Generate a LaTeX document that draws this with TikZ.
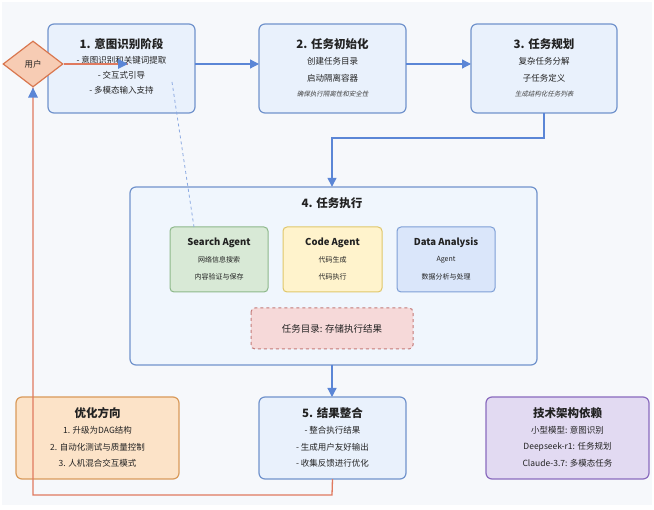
\documentclass[tikz,border=0pt]{standalone}
\usepackage{fontspec}
\setmainfont{Noto Sans CJK SC}
\newfontfamily\slantcjk[FakeSlant=0.25]{Noto Sans CJK SC}
\usetikzlibrary{arrows.meta,shapes.geometric}
\definecolor{bgc}{HTML}{F6F8FB}
\definecolor{stagefill}{HTML}{E9F1FC}
\definecolor{stagedraw}{HTML}{7193CC}
\definecolor{bigfill}{HTML}{F0F6FD}
\definecolor{greenfill}{HTML}{D8E9D6}
\definecolor{greendraw}{HTML}{8DB88A}
\definecolor{yellowfill}{HTML}{FFF3CC}
\definecolor{yellowdraw}{HTML}{E0C76A}
\definecolor{bluefill}{HTML}{DAE6FA}
\definecolor{bluedraw}{HTML}{7E9FD6}
\definecolor{redfill}{HTML}{F6D9D9}
\definecolor{reddraw}{HTML}{C47A78}
\definecolor{userfill}{HTML}{F7CCB4}
\definecolor{userdraw}{HTML}{D9774F}
\definecolor{orangefill}{HTML}{FCE3C8}
\definecolor{orangedraw}{HTML}{D99A5A}
\definecolor{purplefill}{HTML}{E2DAF2}
\definecolor{purpledraw}{HTML}{8A6BBE}
\definecolor{arrowblue}{HTML}{5B86D6}
\definecolor{fbline}{HTML}{E07A5F}
\definecolor{txt}{HTML}{222222}
\begin{document}
\begin{tikzpicture}[x=1pt,y=-1pt,
  box/.style={rounded corners=6pt,line width=1.2pt},
  stage/.style={box,draw=stagedraw,fill=stagefill},
  ttl/.style={font=\bfseries\fontsize{11.5}{13}\selectfont,text=txt},
  body/.style={font=\fontsize{8.5}{10}\selectfont,text=txt,align=center},
  small/.style={font=\fontsize{7}{8}\selectfont,text=txt,align=center},
  note/.style={font=\slantcjk\fontsize{6.5}{8}\selectfont,text=txt!85},
  agentttl/.style={font=\bfseries\fontsize{9.5}{11}\selectfont,text=txt},
  conn/.style={draw=arrowblue,line width=1.3pt,-{Triangle[length=9pt,width=9pt]}},
]
\path[fill=white] (0,0) rectangle (654,510);
\path[fill=bgc] (2,2) rectangle (652,505);

% stage boxes
\draw[stage] (48,24) rectangle (195,113);
\node[minimum width=147pt,minimum height=89pt] (s1) at (121.5,68.5) {};
\node[ttl] (s1t) at (121.5,44) {1. 意图识别阶段};
\node[body] (s1a) at (121.5,60) {- 意图识别和关键词提取};
\node[body] (s1b) at (121.5,75) {- 交互式引导};
\node[body] (s1d) at (121.5,90) {- 多模态输入支持};

\draw[stage] (259,24) rectangle (406,113);
\node[minimum width=147pt,minimum height=89pt] (s2) at (332.5,68.5) {};
\node[ttl] (s2t) at (332.5,44) {2. 任务初始化};
\node[body] (s2a) at (332.5,61) {创建任务目录};
\node[body] (s2b) at (332.5,78) {启动隔离容器};
\node[note] (s2c) at (332.5,94) {确保执行隔离性和安全性};

\draw[stage] (471,24) rectangle (617,113);
\node[minimum width=146pt,minimum height=89pt] (s3) at (544,68.5) {};
\node[ttl] (s3t) at (544,44) {3. 任务规划};
\node[body] (s3a) at (544,61) {复杂任务分解};
\node[body] (s3b) at (544,78) {子任务定义};
\node[note] (s3c) at (544,94) {生成结构化任务列表};

% stage 4
\draw[box,draw=stagedraw,fill=bigfill] (130,187) rectangle (537,365);
\node[minimum width=407pt,minimum height=178pt] (s4) at (333.5,276) {};
\node[ttl] (s4t) at (332,203) {4. 任务执行};

\draw[box,rounded corners=4pt,line width=1pt,draw=greendraw,fill=greenfill] (170,227) rectangle (268,292);
\node[minimum width=98pt,minimum height=65pt] (sa) at (219,259.5) {};
\node[agentttl] (sat) at (219,243) {Search Agent};
\node[small] (saa) at (219,260) {网络信息搜索};
\node[small] (sab) at (219,277) {内容验证与保存};

\draw[box,rounded corners=4pt,line width=1pt,draw=yellowdraw,fill=yellowfill] (283,227) rectangle (382,292);
\node[minimum width=99pt,minimum height=65pt] (ca) at (332.5,259.5) {};
\node[agentttl] (cat) at (332.5,243) {Code Agent};
\node[small] (caa) at (332.5,260) {代码生成};
\node[small] (cab) at (332.5,277) {代码执行};

\draw[box,rounded corners=4pt,line width=1pt,draw=bluedraw,fill=bluefill] (397,227) rectangle (495,292);
\node[minimum width=98pt,minimum height=65pt] (da) at (446,259.5) {};
\node[agentttl] (dat) at (446,243) {Data Analysis};
\node[small] (daa) at (446,260) {Agent};
\node[small] (dab) at (446,277) {数据分析与处理};

\draw[box,rounded corners=4pt,line width=1pt,dashed,draw=reddraw,fill=redfill] (251,308) rectangle (413,349);
\node[font=\fontsize{9.5}{11}\selectfont,text=txt] (td) at (332,328.5) {任务目录: 存储执行结果};

% stage 5
\draw[stage] (259,397) rectangle (406,479);
\node[minimum width=147pt,minimum height=82pt] (s5) at (332.5,438) {};
\node[ttl] (s5t) at (332.5,413) {5. 结果整合};
\node[body] (s5a) at (332.5,430) {- 整合执行结果};
\node[body] (s5b) at (332.5,447) {- 生成用户友好输出};
\node[body] (s5c) at (332.5,463) {- 收集反馈进行优化};

% optimization
\draw[box,draw=orangedraw,fill=orangefill] (16,397) rectangle (179,479);
\node[ttl] (ot) at (97.5,413) {优化方向};
\node[body] (oa) at (97.5,430) {1. 升级为DAG结构};
\node[body] (ob) at (97.5,447) {2. 自动化测试与质量控制};
\node[body] (oc) at (97.5,463) {3. 人机混合交互模式};

% tech
\draw[box,draw=purpledraw,fill=purplefill] (486,397) rectangle (649,479);
\node[ttl] (tt) at (567.5,413) {技术架构依赖};
\node[body] (ta) at (567.5,430) {小型模型: 意图识别};
\node[body] (tb) at (567.5,447) {Deepseek-r1: 任务规划};
\node[body] (tc) at (567.5,463) {Claude-3.7: 多模态任务};

% user
\node[diamond,draw=userdraw,fill=userfill,line width=1.2pt,minimum width=60pt,minimum height=46pt,inner sep=0pt,aspect=1.3,font=\fontsize{8.5}{10}\selectfont,text=txt] (user) at (33,64) {用户};

% connectors
\coordinate (uin) at (128,64);
\draw[fbline,line width=1.3pt] (user.east) -- (uin);
\fill[arrowblue] (uin) -- ++(-10,-5) -- ++(0,10) -- cycle;

\draw[conn] (195,64) -- (259,64);
\draw[conn] (406,64) -- (471,64);
\draw[conn] (s3.south) |- (332,138) -- (s4.north -| 332,0);
\draw[conn] (332,365) -- (332,397);

\coordinate (dstart) at (172,82);
\draw[arrowblue!70,line width=0.8pt,dashed] (dstart) -- (194,227);

\coordinate (fb1) at (332,495);
\coordinate (fb2) at (33,495);
\draw[fbline,line width=1.3pt] (s5.south) -- (fb1) -- (fb2) -- (user.south);
\fill[arrowblue] (user.south) -- ++(-5,10) -- ++(10,0) -- cycle;
\end{tikzpicture}
\end{document}
